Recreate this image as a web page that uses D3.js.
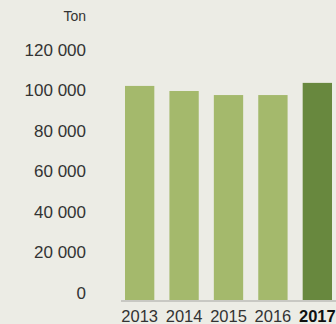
<html>
<script src='https://d3js.org/d3.v7.min.js'></script>
<style>
body {margin: 0; background: #ecece5;}
text {font-family: 'Liberation Sans', Arial, sans-serif; fill: #333;}
</style>
<body>
<svg width=336 height=324></svg>
<script>

// data
var years = ["2013", "2014", "2015", "2016", "2017"];
var tonnes = [105500, 103000, 101000, 101000, 107000];
var yTicks = [0, 20000, 40000, 60000, 80000, 100000, 120000];
var unitLabel = "Ton";

var svg = d3.select("svg");

// background
svg.append("rect")
    .attr("width", 336)
    .attr("height", 324)
    .attr("fill", "#ecece5");

var x = d3.scaleBand()
    .domain(years)
    .range([121, 336])
    .paddingInner(0.34)
    .paddingOuter(0.09);

var y = d3.scaleLinear()
    .domain([0, 120000])
    .range([300, 56.5]);

// Y tick labels (no axis line)
var fmt = function(d) { return d3.format(",")(d).replace(/,/g, " "); };
svg.append("g")
  .selectAll("text")
  .data(yTicks)
  .enter()
  .append("text")
    .attr("x", 86)
    .attr("y", function(d) { return y(d) - 1; })
    .attr("text-anchor", "end")
    .style("font-size", "17px")
    .text(fmt);

// unit label
svg.append("text")
    .attr("x", 86)
    .attr("y", 21)
    .attr("text-anchor", "end")
    .style("font-size", "14px")
    .text(unitLabel);

// bars
svg.append("g")
  .selectAll("rect")
  .data(years)
  .enter()
  .append("rect")
    .attr("x", function(d) { return x(d); })
    .attr("y", function(d, i) { return y(tonnes[i]); })
    .attr("width", x.bandwidth())
    .attr("height", function(d, i) { return y(0) - y(tonnes[i]); })
    .attr("fill", function(d, i) { return i == years.length - 1 ? "#68883e" : "#a4b96c"; });

// baseline
svg.append("line")
    .attr("x1", 121)
    .attr("x2", 336)
    .attr("y1", y(0) + 1)
    .attr("y2", y(0) + 1)
    .style("stroke", "#c8c8c3")
    .style("stroke-width", 2);

// year labels
svg.append("g")
  .selectAll("text")
  .data(years)
  .enter()
  .append("text")
    .attr("x", function(d) { return x(d) + x.bandwidth() / 2; })
    .attr("y", 322)
    .attr("text-anchor", "middle")
    .style("font-size", "16.5px")
    .style("font-weight", function(d, i) { return i == years.length - 1 ? "bold" : "normal"; })
    .style("fill", function(d, i) { return i == years.length - 1 ? "#111" : "#333"; })
    .text(function(d) { return d; });

</script>
</body>
</html>
